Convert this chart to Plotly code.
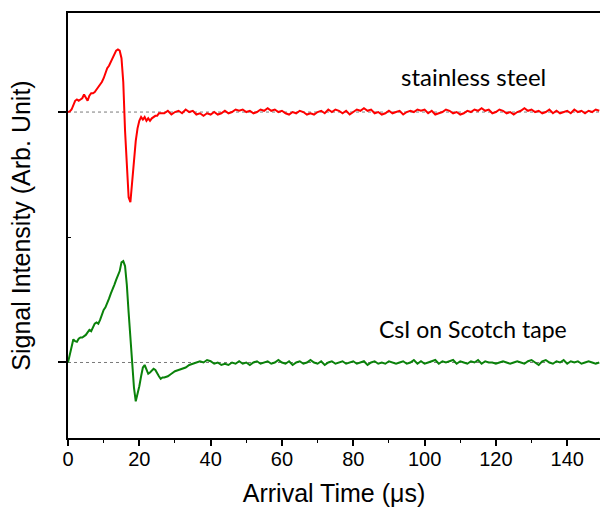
import plotly.graph_objects as go

# ---------------- data (signal relative to its own baseline) ----------------
steel_t = [0, 0.5, 1, 1.5, 2, 2.5, 3, 3.5, 4, 4.5, 5, 5.5, 6, 6.5, 7, 7.5, 8, 8.5, 9, 9.5,
           10, 10.5, 11, 11.5, 12, 12.5, 13, 13.5, 14, 14.5, 15, 15.5, 16, 16.5, 17, 17.5,
           18, 18.5, 19, 19.5, 20, 20.5, 21, 21.5, 22, 22.5, 23, 23.5, 24, 24.5, 25, 25.5, 26] + list(range(27, 150))
steel_v = [0.00, 0.005, 0.02, 0.05, 0.09, 0.10, 0.09, 0.10, 0.11, 0.14, 0.12, 0.09, 0.13, 0.15,
           0.15, 0.16, 0.18, 0.20, 0.21, 0.24, 0.27, 0.31, 0.35, 0.37, 0.40, 0.43, 0.46, 0.49,
           0.50, 0.49, 0.43, 0.24, -0.15, -0.45, -0.68, -0.72, -0.55, -0.38, -0.23, -0.13,
           -0.07, -0.04, -0.06, -0.04, -0.07, -0.05, -0.07, -0.05, -0.04, -0.03, -0.03, -0.01, -0.01,
           # 27..149
           -0.01, 0.01, -0.02, 0.00, 0.01, -0.01, 0.02, 0.00, 0.01, -0.02,
           -0.01, -0.03, -0.01, -0.02, 0.00, -0.02, -0.01, 0.01, -0.01, 0.00,
           0.02, 0.01, 0.02, 0.00, 0.01, -0.01, 0.00, 0.02, 0.01, 0.03,
           0.01, 0.02, 0.00, 0.01, -0.01, -0.02, 0.00, -0.01, 0.01, 0.00,
           -0.02, -0.01, -0.02, 0.00, 0.01, -0.01, 0.02, 0.00, 0.02, 0.01,
           -0.01, 0.01, -0.02, 0.00, 0.02, 0.01, 0.03, 0.01, 0.02, -0.01,
           0.00, -0.02, -0.01, 0.01, -0.01, 0.00, 0.01, -0.02, 0.00, 0.01,
           0.00, 0.02, 0.01, 0.02, -0.01, 0.01, -0.02, -0.01, 0.00, 0.02,
           0.01, -0.01, 0.00, -0.02, -0.01, 0.01, 0.00, 0.02, 0.01, 0.03,
           0.01, 0.02, -0.01, 0.00, 0.02, 0.01, -0.01, 0.00, -0.02, 0.00,
           0.01, 0.03, 0.01, 0.02, 0.00, 0.01, -0.01, 0.00, 0.02, -0.01,
           0.01, -0.01, 0.00, 0.01, -0.01, 0.02, 0.00, 0.01, -0.01, 0.01,
           0.00, 0.02, 0.01]

csi_t = [0, 0.5, 1, 1.5, 2, 2.5, 3, 3.5, 4, 4.5, 5, 5.5, 6, 6.5, 7, 7.5, 8, 8.5, 9, 9.5,
         10, 10.5, 11, 11.5, 12, 12.5, 13, 13.5, 14, 14.5, 15, 15.5, 16, 16.5, 17, 17.5,
         18, 18.5, 19, 19.5, 20, 20.5, 21, 21.5, 22, 22.5, 23, 23.5, 24, 24.5, 25, 25.5,
         26, 26.5, 27, 28, 29, 30, 31, 32, 33, 34, 35, 36] + list(range(37, 150))
csi_v = [0.00, 0.07, 0.14, 0.185, 0.17, 0.165, 0.19, 0.20, 0.20, 0.21, 0.22, 0.24, 0.26, 0.25,
         0.28, 0.31, 0.32, 0.31, 0.34, 0.38, 0.42, 0.44, 0.47, 0.51, 0.55, 0.58, 0.62, 0.66,
         0.69, 0.73, 0.80, 0.81, 0.77, 0.62, 0.40, 0.17, -0.02, -0.20, -0.31, -0.26, -0.19,
         -0.11, -0.04, -0.02, -0.06, -0.09, -0.08, -0.06, -0.05, -0.06, -0.09, -0.11, -0.13,
         -0.12, -0.12, -0.11, -0.09, -0.07, -0.06, -0.05, -0.04, -0.02, -0.01, 0.00,
         # 37..149
         0.01, 0.00, 0.02, 0.01, -0.01, 0.00, -0.02, -0.01, -0.02, 0.00,
         -0.01, 0.01, -0.01, 0.00, -0.02, 0.00, 0.01, -0.01, 0.00, 0.01,
         -0.01, 0.00, 0.02, 0.00, -0.01, 0.01, -0.02, 0.00, 0.01, -0.01,
         0.00, 0.02, 0.00, -0.01, 0.01, -0.02, 0.00, 0.01, -0.01, 0.00,
         0.01, -0.01, 0.00, 0.01, -0.01, 0.00, 0.01, -0.02, 0.00, 0.01,
         -0.01, 0.00, -0.01, 0.01, 0.00, -0.01, 0.00, 0.01, -0.01, 0.00,
         0.02, -0.01, 0.01, -0.01, 0.00, 0.01, 0.02, -0.01, 0.01, 0.00,
         0.01, 0.02, -0.01, 0.01, 0.00, -0.01, 0.01, 0.00, 0.02, -0.01,
         0.01, 0.00, 0.00, -0.01, 0.00, 0.01, 0.00, -0.01, 0.00, 0.01,
         0.00, -0.01, 0.01, 0.02, 0.00, -0.02, 0.01, 0.02, 0.00, -0.01,
         0.01, 0.00, 0.02, -0.01, 0.01, 0.00, 0.01, -0.01, 0.00, 0.01,
         0.00, -0.01, 0.00]

x_ticks = [0, 20, 40, 60, 80, 100, 120, 140]
labels = ["stainless steel", "CsI on Scotch tape"]

# ---------------- layout constants ----------------
STEEL_OFFSET = 2.0
CSI_OFFSET = 0.0
X_MAX = 149.2

fig = go.Figure()

# dashed baselines
for off in (STEEL_OFFSET, CSI_OFFSET):
    fig.add_trace(go.Scatter(x=[0, X_MAX], y=[off, off], mode="lines",
                             line=dict(color="#7a7a7a", width=1, dash="3px,3px"),
                             hoverinfo="skip", showlegend=False))

fig.add_trace(go.Scatter(x=steel_t, y=[v + STEEL_OFFSET for v in steel_v], mode="lines",
                         line=dict(color="#ff0000", width=2), showlegend=False))
fig.add_trace(go.Scatter(x=csi_t, y=[v + CSI_OFFSET for v in csi_v], mode="lines",
                         line=dict(color="#0a820a", width=2), showlegend=False))

fig.add_annotation(x=113.7, y=STEEL_OFFSET + 0.28, text=labels[0], showarrow=False,
                   font=dict(family="Lato", size=24, color="black"))
fig.add_annotation(x=113.7, y=CSI_OFFSET + 0.27, text=labels[1], showarrow=False,
                   font=dict(family="Lato", size=23, color="black"))

fig.update_layout(
    width=600, height=509,
    margin=dict(l=68, r=0, t=13, b=71),
    plot_bgcolor="white", paper_bgcolor="white",
    font=dict(family="Liberation Sans, Arial, sans-serif", color="black"),
    xaxis=dict(range=[0, X_MAX], showgrid=False, zeroline=False,
               showline=True, linecolor="black", linewidth=1.5, mirror=True,
               tickvals=x_ticks, ticks="outside", ticklen=6, tickwidth=1.5, tickcolor="black",
               ticklabelstandoff=-4,
               minor=dict(dtick=10, tick0=0, ticks="outside", ticklen=3, tickwidth=1.2, tickcolor="black"),
               tickfont=dict(size=20, family="Liberation Sans"),
               title=dict(text="Arrival Time (μs)", font=dict(size=25, family="Liberation Sans"), standoff=16)),
    yaxis=dict(range=[-0.603, 2.791], showgrid=False, zeroline=False,
               showline=True, linecolor="black", linewidth=1.5,
               tickvals=[CSI_OFFSET, STEEL_OFFSET], ticktext=["", ""],
               ticks="outside", ticklen=8, tickwidth=1.5, tickcolor="black",
               minor=dict(tickvals=[1.0], ticks="inside", ticklen=3, tickwidth=1, tickcolor="black"),
               title=dict(text="Signal Intensity (Arb. Unit)", font=dict(size=25, family="Liberation Sans"), standoff=18)),
)

fig.write_html("out.html")
